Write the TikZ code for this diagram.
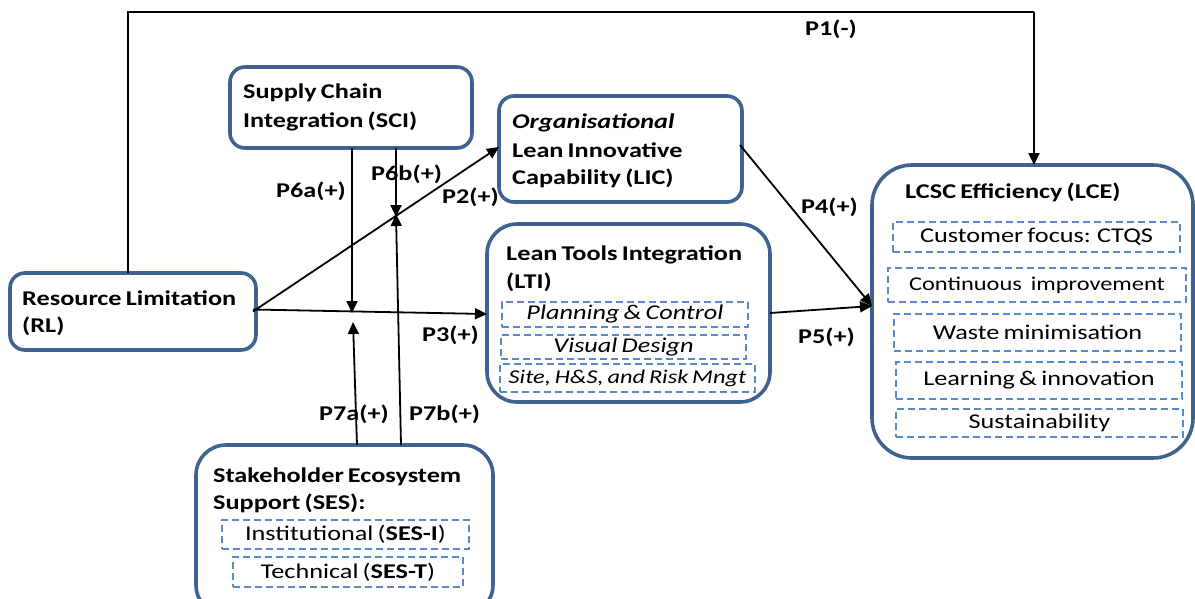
\documentclass[tikz,border=0pt]{standalone}
\usepackage{fontspec}
\setmainfont{Carlito}[FakeStretch=1.25,WordSpace=0.7]
\usetikzlibrary{arrows.meta}
\definecolor{boxblue}{HTML}{3F6390}
\definecolor{dashblue}{HTML}{5A8AC6}
\begin{document}
\begin{tikzpicture}[x=1pt,y=-1pt,
  box/.style={draw=boxblue, line width=3.6pt, rounded corners=15pt, inner sep=0pt, outer sep=0pt, anchor=north west},
  sub/.style={draw=dashblue, dash pattern=on 7pt off 4pt, line width=1.3pt, inner sep=0pt, outer sep=0pt, anchor=north west, font=\fontsize{21}{24}\selectfont},
  lbl/.style={anchor=base west, inner sep=0pt, font=\fontsize{21}{24}\selectfont\bfseries},
  conn/.style={line width=1.8pt},
  arr/.style={conn, -{Triangle[length=12pt,width=11pt]}}
]
\useasboundingbox (0,0) rectangle (1195,598);

% main boxes
\node[box, minimum width=246pt, minimum height=77pt] (rl) at (10,273) {};
\node[box, minimum width=242pt, minimum height=81pt] (sci) at (230,67) {};
\node[box, minimum width=243pt, minimum height=106pt] (lic) at (499,96) {};
\node[box, minimum width=283pt, minimum height=178pt, rounded corners=30pt] (lti) at (487,224) {};
\node[box, minimum width=321pt, minimum height=293pt, rounded corners=40pt] (lce) at (872,165) {};
\node[box, minimum width=297pt, minimum height=170pt, rounded corners=30pt] (ses) at (196,445) {};

% box titles
\node[lbl] (rlt1) at (22,305) {Resource Limitation};
\node[lbl] (rlt2) at (22,332) {(RL)};
\node[lbl] (scit1) at (243,98) {Supply Chain};
\node[lbl] (scit2) at (243,127) {Integration (SCI)};
\node[lbl] (lict1) at (512,128) {\itshape Organisational};
\node[lbl] (lict2) at (512,157) {Lean Innovative};
\node[lbl] (lict3) at (512,184) {Capability (LIC)};
\node[lbl] (ltit1) at (506,260) {Lean Tools Integration};
\node[lbl] (ltit2) at (506,288) {(LTI)};
\node[lbl] (lcet) at (905,198) {LCSC Efficiency (LCE)};
\node[lbl] (sest1) at (213,482) {Stakeholder Ecosystem};
\node[lbl] (sest2) at (213,509) {Support (SES):};

% dashed sub-boxes
\node[sub, minimum width=246pt, minimum height=25pt] (pc) at (502,302) {\itshape Planning \& Control};
\node[sub, minimum width=245pt, minimum height=24pt] (vd) at (501,335) {\itshape Visual Design};
\node[sub, minimum width=255pt, minimum height=28pt, font=\fontsize{19.5}{24}\selectfont] (sh) at (500,364) {\itshape Site, H\&S, and Risk Mngt};
\node[sub, minimum width=287pt, minimum height=30pt] (cf) at (893,222) {Customer focus: CTQS};
\node[sub, minimum width=298pt, minimum height=34pt, font=\fontsize{19.5}{24}\selectfont] (ci) at (888,268) {Continuous\hspace{9pt}improvement};
\node[sub, minimum width=287pt, minimum height=37pt] (wm) at (894,314) {Waste minimisation};
\node[sub, minimum width=286pt, minimum height=37pt] (li) at (896,362) {Learning \& innovation};
\node[sub, minimum width=287pt, minimum height=28pt] (su) at (896,409) {Sustainability};
\node[sub, minimum width=247pt, minimum height=29pt] (si) at (222,520) {Institutional (\textbf{SES-I})};
\node[sub, minimum width=230pt, minimum height=30pt] (st) at (233,557) {Technical (\textbf{SES-T})};

% junction coordinates
\coordinate (j1) at (352,313);
\coordinate (j1b) at (353,322);
\coordinate (j2) at (396,217);
\coordinate (tl) at (128,12);
\coordinate (tr) at (1034,12);
\coordinate (lcein) at (872,306);

% connectors
\draw[conn] (rl.north -| tl) -- (tl) -- (tr);
\draw[arr] (tr) -- (lce.north -| tr);
\draw[arr] ([xshift=-3pt]rl.east) -- ([yshift=2pt]lic.west);
\draw[arr] ([xshift=-3pt,yshift=2pt]rl.east) -- (lti.west |- 0,314);
\draw[arr] (sci.south -| j1) -- (j1);
\draw[arr] (sci.south -| j2) -- (j2);
\draw[arr] (ses.north -| 357,0) -- (j1b);
\draw[arr] (ses.north -| 401,0) -- ([yshift=3pt]j2);
\draw[arr] ([xshift=-2pt,yshift=4pt]lic.east) -- (lcein);
\draw[arr] (lti.east |- 0,313) -- (lcein);

% labels
\node[lbl] (p1) at (805,35) {P1(-)};
\node[lbl] (p6a) at (276,197) {P6a(+)};
\node[lbl] (p6b) at (371,180) {P6b(+)};
\node[lbl] (p2) at (442,203) {P2(+)};
\node[lbl] (p3) at (422,341) {P3(+)};
\node[lbl] (p7a) at (319,420) {P7a(+)};
\node[lbl] (p7b) at (409,420) {P7b(+)};
\node[lbl] (p4) at (801,213) {P4(+)};
\node[lbl] (p5) at (798,343) {P5(+)};
\end{tikzpicture}
\end{document}
